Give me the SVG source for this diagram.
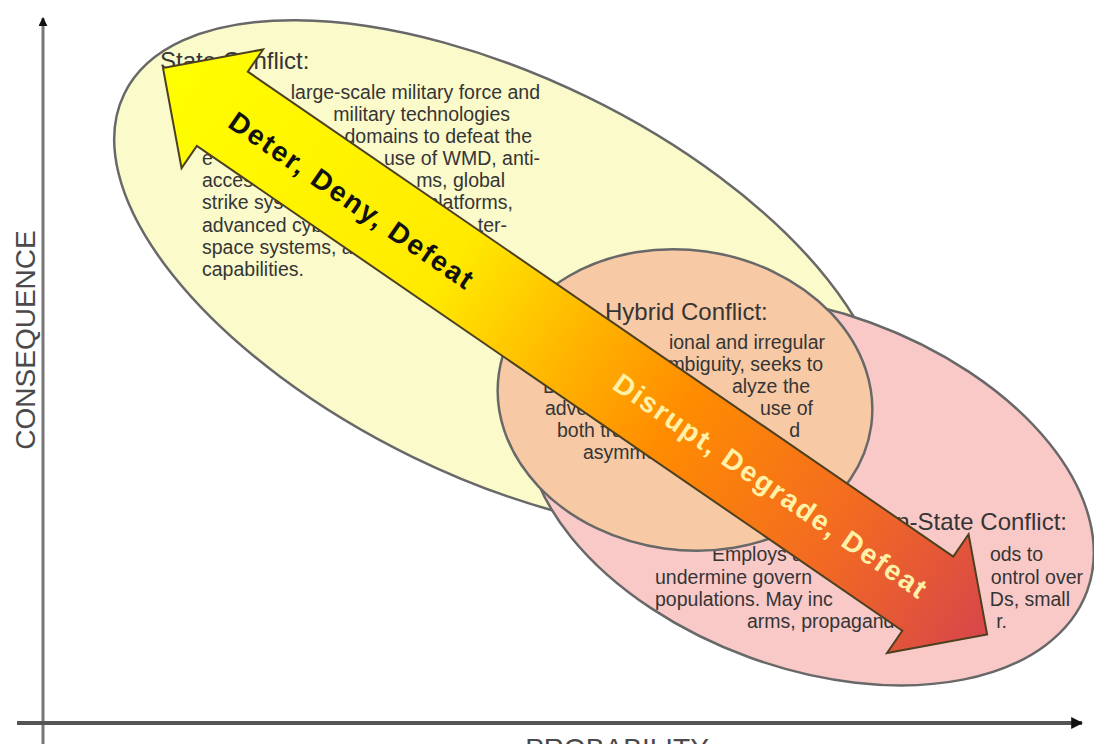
<svg xmlns="http://www.w3.org/2000/svg" width="1094" height="744" viewBox="0 0 1094 744">
<defs>
<style>
.t{font-family:"Liberation Sans",Arial,sans-serif;fill:#353535}
.ttl{font-size:24px}
.bd{font-size:19.5px}
.end{text-anchor:end}
.ax{font-family:"Liberation Sans",Arial,sans-serif;font-size:28px;fill:#4a4a4a}
.ell{stroke:#686868;stroke-width:2.5}
.atx{font-family:"Liberation Sans",Arial,sans-serif;font-size:28px;font-weight:bold;letter-spacing:2px;text-anchor:middle}
</style>
<linearGradient id="ag" gradientUnits="userSpaceOnUse" x1="0" y1="0" x2="1000" y2="0">
<stop offset="0" stop-color="#FFFF00"/>
<stop offset="0.35" stop-color="#FFEA00"/>
<stop offset="0.5" stop-color="#FFB300"/>
<stop offset="0.62" stop-color="#FF8C00"/>
<stop offset="0.82" stop-color="#F26A22"/>
<stop offset="1" stop-color="#D8464A"/>
</linearGradient>
<marker id="ah" viewBox="0 0 10 10" refX="9" refY="5" markerWidth="3" markerHeight="3" orient="auto">
<path d="M0,0 L10,5 L0,10 z" fill="#111"/>
</marker>
</defs>
<rect width="1094" height="744" fill="#fff"/>

<g id="axes">
<line x1="43" y1="744" x2="43" y2="18" stroke="#777" stroke-width="3" marker-end="url(#ah)"/>
<line x1="17" y1="723" x2="1082" y2="723" stroke="#555" stroke-width="4" marker-end="url(#ah)"/>
<text class="ax" text-anchor="middle" transform="translate(35,340) rotate(-90)">CONSEQUENCE</text>
<text class="ax" x="617" y="758" text-anchor="middle">PROBABILITY</text>
</g>

<g id="node-state">
<ellipse class="ell" cx="500" cy="277" rx="418" ry="200" transform="rotate(26 500 277)" fill="#FBFACB"/>
<text class="t ttl" x="160" y="69">State Conflict:</text>
<text class="t bd end" x="540" y="99">large-scale military force and</text>
<text class="t bd end" x="510" y="121">military technologies</text>
<text class="t bd end" x="532" y="143">domains to defeat the</text>
<text class="t bd" x="202" y="165">e</text>
<text class="t bd end" x="540" y="165">use of WMD, anti-</text>
<text class="t bd" x="202" y="187">access</text>
<text class="t bd end" x="505" y="187">ms, global</text>
<text class="t bd" x="202" y="209">strike sys</text>
<text class="t bd end" x="513" y="209">platforms,</text>
<text class="t bd" x="202" y="232">advanced cyb</text>
<text class="t bd end" x="507" y="232">ter-</text>
<text class="t bd" x="202" y="254">space systems, a</text>
<text class="t bd" x="202" y="276">capabilities.</text>
</g>

<g id="node-nonstate">
<ellipse class="ell" cx="810" cy="490" rx="295" ry="178" transform="rotate(20 810 490)" fill="#F9C9C8"/>
<text class="t ttl end" x="1067" y="530">Non-State Conflict:</text>
<text class="t bd" x="712" y="561">Employs as</text>
<text class="t bd end" x="1043" y="561">ods to</text>
<text class="t bd" x="655" y="584">undermine govern</text>
<text class="t bd end" x="1083" y="584">ontrol over</text>
<text class="t bd" x="655" y="606">populations. May inc</text>
<text class="t bd end" x="1070" y="606">Ds, small</text>
<text class="t bd" x="747" y="628">arms, propaganda</text>
<text class="t bd end" x="1007" y="628">r.</text>
</g>

<g id="node-hybrid">
<ellipse class="ell" cx="685" cy="400" rx="188" ry="150" transform="rotate(8 685 400)" fill="#F7C9A5"/>
<text class="t ttl" x="605" y="320">Hybrid Conflict:</text>
<text class="t bd end" x="825" y="349">ional and irregular</text>
<text class="t bd end" x="823" y="371">mbiguity, seeks to</text>
<text class="t bd" x="543" y="393">Be</text>
<text class="t bd end" x="810" y="393">alyze the</text>
<text class="t bd" x="545" y="415">adver</text>
<text class="t bd end" x="813" y="415">use of</text>
<text class="t bd" x="557" y="437">both tra</text>
<text class="t bd end" x="800" y="437">d</text>
<text class="t bd" x="583" y="459">asymme</text>
</g>

<g id="connectors">
<g id="arrow" transform="translate(163,68) rotate(34.5)">
<polygon points="0,0 72,-72 72,-45 928,-45 928,-72 1000,0 928,72 928,45 72,45 72,72" fill="url(#ag)" stroke="#4d4020" stroke-width="2" stroke-linejoin="miter"/>
<text class="atx" x="231" y="12" fill="#111">Deter, Deny, Defeat</text>
<text class="atx" x="738" y="10" fill="#FFF2A8">Disrupt, Degrade, Defeat</text>
</g>
</g>
</svg>
